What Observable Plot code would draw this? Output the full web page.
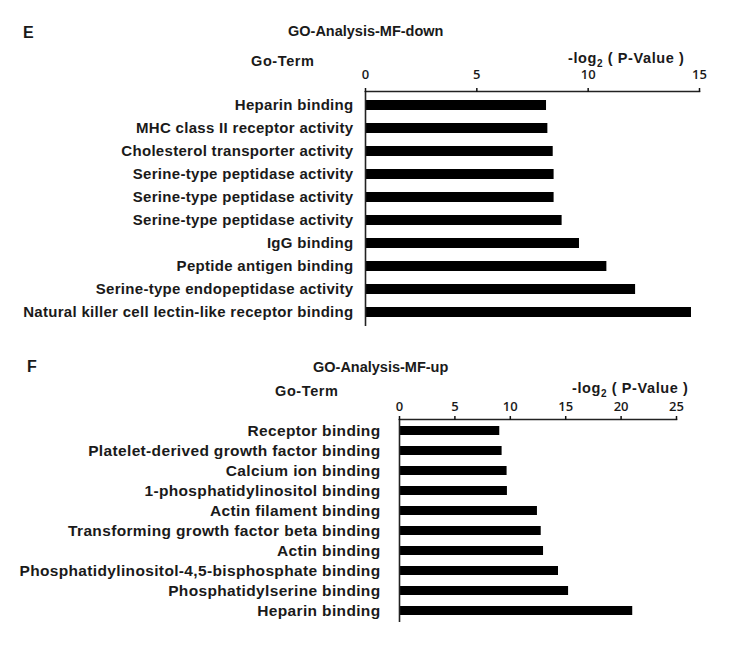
<!DOCTYPE html>
<html>
<head>
<meta charset="utf-8">
<script src="https://cdn.jsdelivr.net/npm/d3@7"></script>
<script src="https://cdn.jsdelivr.net/npm/@observablehq/plot@0.6"></script>
<style>
  html, body { margin: 0; padding: 0; background: #fff; }
  #wrap { position: relative; width: 730px; height: 652px; overflow: hidden; font-family: "Liberation Sans", Arial, sans-serif; color: #1a1a1a; }
  .t { position: absolute; white-space: nowrap; font-weight: bold; font-size: 14.5px; line-height: 1; z-index: 2; }
  .panel { position: absolute; font-weight: bold; font-size: 16px; line-height: 1; z-index: 2; }
  .sv { position: absolute; left: 0; z-index: 1; }
  .sv svg { overflow: visible; background: transparent; }
  .sv g[aria-label="x-axis tick label"] text { font-family: "Open Sans", sans-serif; font-size: 13px; font-weight: 600; }
  .sv g[aria-label="y-axis tick label"] text { font-family: "Liberation Sans", Arial, sans-serif; font-weight: bold; }
  #svE g[aria-label="y-axis tick label"] text { font-size: 15px; letter-spacing: 0.3px; }
  #svF g[aria-label="y-axis tick label"] text { font-size: 15.5px; letter-spacing: 0.35px; }
  sub { font-size: 10px; vertical-align: -4px; line-height: 0; }
</style>
</head>
<body>
<div id="wrap">
  <div class="panel" style="left:23px; top:25px;">E</div>
  <div class="t" style="left:288px; top:24px;">GO-Analysis-MF-down</div>
  <div class="t" style="left:251px; top:54px; letter-spacing:0.6px;">Go-Term</div>
  <div class="t" style="left:568px; top:51px; letter-spacing:0.6px;">-log<sub>2</sub> ( P-Value )</div>

  <div class="panel" style="left:27px; top:359px;">F</div>
  <div class="t" style="left:313px; top:360px;">GO-Analysis-MF-up</div>
  <div class="t" style="left:275px; top:384px; letter-spacing:0.6px;">Go-Term</div>
  <div class="t" style="left:572px; top:381px; letter-spacing:0.6px;">-log<sub>2</sub> ( P-Value )</div>

  <div class="sv" id="svE" style="top:40px;"></div>
  <div class="sv" id="svF" style="top:390px;"></div>
</div>
<script>
// Panel E: GO-Analysis-MF-down
const eTerms = [
  "Heparin binding",
  "MHC class II receptor activity",
  "Cholesterol transporter activity",
  "Serine-type peptidase activity",
  "Serine-type peptidase activity",
  "Serine-type peptidase activity",
  "IgG binding",
  "Peptide antigen binding",
  "Serine-type endopeptidase activity",
  "Natural killer cell lectin-like receptor binding"
];
const eValues = [8.13, 8.19, 8.43, 8.47, 8.47, 8.83, 9.61, 10.84, 12.13, 14.64];
const eTicks = [0, 5, 10, 15];

// Panel F: GO-Analysis-MF-up
const fTerms = [
  "Receptor binding",
  "Platelet-derived growth factor binding",
  "Calcium ion binding",
  "1-phosphatidylinositol binding",
  "Actin filament binding",
  "Transforming growth factor beta binding",
  "Actin binding",
  "Phosphatidylinositol-4,5-bisphosphate binding",
  "Phosphatidylserine binding",
  "Heparin binding"
];
const fValues = [9.05, 9.26, 9.71, 9.74, 12.45, 12.79, 13.0, 14.35, 15.26, 21.05];
const fTicks = [0, 5, 10, 15, 20, 25];

function makeChart(terms, values, ticks, o) {
  const data = values.map((v, i) => ({i, v}));
  return Plot.plot({
    width: 730,
    height: o.height,
    marginTop: o.marginTop,
    marginBottom: o.marginBottom,
    marginLeft: o.marginLeft,
    marginRight: o.marginRight,
    style: {background: "transparent", color: "#1a1a1a", overflow: "visible"},
    x: {domain: [ticks[0], ticks[ticks.length - 1]]},
    y: {domain: d3.range(terms.length), paddingInner: o.pi, paddingOuter: o.po},
    marks: [
      Plot.barX(data, {x: "v", y: "i", fill: "#000"}),
      Plot.frame({anchor: "top", stroke: "#222", strokeWidth: 1.5}),
      Plot.ruleX([0], {stroke: "#222", strokeWidth: 1.6}),
      Plot.axisX({anchor: "top", ticks: ticks, tickSize: 4, tickPadding: o.tickPad,
                  stroke: "#111", strokeWidth: 1.5, strokeOpacity: 1, label: null, fill: "#1a1a1a"}),
      Plot.axisY({anchor: "left", tickSize: 0, tickPadding: o.yPad, tickFormat: i => terms[i],
                  label: null, fill: "#1a1a1a"})
    ]
  });
}

document.getElementById("svE").append(makeChart(eTerms, eValues, eTicks, {
  height: 290, marginTop: 51, marginBottom: 4, marginLeft: 365, marginRight: 31,
  pi: 0.55, po: 0.29, tickPad: 9, yPad: 12
}));
document.getElementById("svF").append(makeChart(fTerms, fValues, fTicks, {
  height: 237, marginTop: 29, marginBottom: 5, marginLeft: 399, marginRight: 54,
  pi: 0.535, po: 0.34, tickPad: 5, yPad: 19
}));
</script>
</body>
</html>
